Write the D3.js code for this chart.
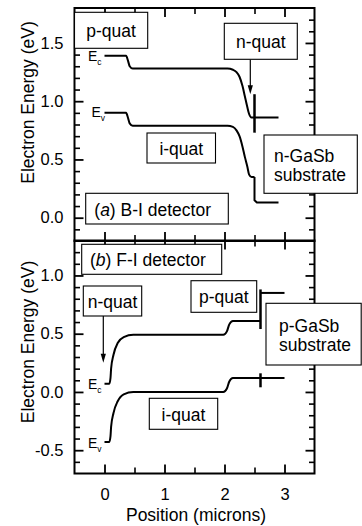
<!DOCTYPE html>
<html><head><meta charset="utf-8">
<script src="https://cdn.jsdelivr.net/npm/d3@7"></script>
<style>
body{margin:0;background:#fff}
svg{display:block}
text{font-family:"Liberation Sans",Arial,Helvetica,sans-serif;fill:#000}
</style>
</head><body><svg id="c" width="362" height="526"></svg>
<script>
// ---------- data ----------
const xMajorTicks = [0, 1, 2, 3];
const xMinorTicks = [0.5, 1.5, 2.5];
const yMajorTicksA = [0, 0.5, 1.0, 1.5];
const yMinorTicksA = [-0.1,0.1,0.2,0.3,0.4,0.6,0.7,0.8,0.9,1.1,1.2,1.3,1.4,1.6,1.7];
const yMajorTicksB = [-0.5, 0, 0.5, 1.0];
const yMinorTicksB = [-0.6,-0.4,-0.3,-0.2,-0.1,0.1,0.2,0.3,0.4,0.6,0.7,0.8,0.9,1.1,1.2];

// (a) B-I detector
const ecA = [[0.0,1.39],[0.36,1.39],[0.39,1.35],[0.42,1.30],[0.47,1.28],[2.05,1.28],[2.14,1.27],[2.2,1.25],[2.25,1.21],[2.3,1.13],[2.34,1.04],[2.38,0.95],[2.41,0.89],[2.45,0.86],[2.9,0.86]];
const evA = [[0.0,0.90],[0.36,0.90],[0.39,0.86],[0.42,0.81],[0.47,0.79],[2.05,0.79],[2.14,0.78],[2.2,0.75],[2.25,0.70],[2.3,0.61],[2.34,0.52],[2.38,0.44],[2.41,0.37],[2.45,0.35],[2.5,0.35]];
const evASub = [[2.5,0.35],[2.5,0.15],[2.54,0.13],[2.9,0.13]];
const barsA = [[2.5,0.73,1.06]];

// (b) F-I detector
const ecB = [[0.0,0.07],[0.08,0.07],[0.1,0.12],[0.11,0.2],[0.15,0.32],[0.22,0.42],[0.32,0.47],[0.48,0.49],[1.98,0.49],[2.04,0.52],[2.08,0.58],[2.14,0.61],[2.6,0.61]];
const evB = [[0.0,-0.43],[0.08,-0.43],[0.1,-0.38],[0.11,-0.30],[0.15,-0.18],[0.22,-0.08],[0.32,-0.02],[0.48,0.0],[1.98,0.0],[2.04,0.03],[2.08,0.09],[2.14,0.12],[3.0,0.12]];
const ecBSub = [[2.6,0.85],[3.0,0.85]];
const barsB = [[2.6,0.54,0.88],[2.6,0.04,0.16]];

// ---------- chart ----------
const svg = d3.select("#c");
const x = d3.scaleLinear([-0.5, 3.5], [74.5, 314.5]);
const yA = d3.scaleLinear([-0.2, 1.8], [241, 8]);
const yB = d3.scaleLinear([-0.7, 1.3], [473.5, 240.5]);
const fmt = d => d.toFixed(1);

function styleAxis(g, w) {
  g.select(".domain").remove();
  g.selectAll(".tick line").attr("stroke", "#000").attr("stroke-width", w);
  g.selectAll(".tick text").style("font-size", "16.5px").attr("fill", "#000");
}

function panel(y, yMaj, yMin, showX) {
  const [y0, y1] = y.range(); // bottom, top
  const g = svg.append("g");
  // left
  g.append("g").attr("transform", `translate(${x.range()[0]},0)`)
    .call(d3.axisLeft(y).tickValues(yMin).tickSize(-5.5).tickFormat(""))
    .call(a => styleAxis(a, 1.6));
  g.append("g").attr("transform", `translate(${x.range()[0]},0)`)
    .call(d3.axisLeft(y).tickValues(yMaj).tickSize(-9).tickPadding(11).tickFormat(fmt))
    .call(a => styleAxis(a, 1.8));
  // right
  g.append("g").attr("transform", `translate(${x.range()[1]},0)`)
    .call(d3.axisRight(y).tickValues(yMin).tickSize(-5.5).tickFormat(""))
    .call(a => styleAxis(a, 1.6));
  g.append("g").attr("transform", `translate(${x.range()[1]},0)`)
    .call(d3.axisRight(y).tickValues(yMaj).tickSize(-9).tickFormat(""))
    .call(a => styleAxis(a, 1.8));
  // top
  g.append("g").attr("transform", `translate(0,${y1})`)
    .call(d3.axisTop(x).tickValues(xMinorTicks).tickSize(-6).tickFormat(""))
    .call(a => styleAxis(a, 1.6));
  g.append("g").attr("transform", `translate(0,${y1})`)
    .call(d3.axisTop(x).tickValues(xMajorTicks).tickSize(-9).tickFormat(""))
    .call(a => styleAxis(a, 1.8));
  // bottom
  g.append("g").attr("transform", `translate(0,${y0})`)
    .call(d3.axisBottom(x).tickValues(xMinorTicks).tickSize(-6).tickFormat(""))
    .call(a => styleAxis(a, 1.6));
  g.append("g").attr("transform", `translate(0,${y0})`)
    .call(d3.axisBottom(x).tickValues(xMajorTicks).tickSize(-9).tickPadding(14.5)
      .tickFormat(showX ? d3.format("d") : ""))
    .call(a => styleAxis(a, 1.8));
  // frame
  g.append("rect").attr("x", x.range()[0]).attr("y", y1)
    .attr("width", x.range()[1] - x.range()[0]).attr("height", y0 - y1)
    .attr("fill", "none").attr("stroke", "#000").attr("stroke-width", 2);
  return g;
}

panel(yA, yMajorTicksA, yMinorTicksA, false);
panel(yB, yMajorTicksB, yMinorTicksB, true);

function curve(data, y, c) {
  svg.append("path").datum(data)
    .attr("d", d3.line().x(d => x(d[0])).y(d => y(d[1])).curve(c || d3.curveMonotoneX))
    .attr("fill", "none").attr("stroke", "#000").attr("stroke-width", 2)
    .attr("stroke-linejoin", "round");
}
function bars(data, y) {
  svg.selectAll(null).data(data).enter().append("line")
    .attr("x1", d => x(d[0])).attr("x2", d => x(d[0]))
    .attr("y1", d => y(d[1])).attr("y2", d => y(d[2]))
    .attr("stroke", "#000").attr("stroke-width", 2.5);
}
curve(ecA, yA); curve(evA, yA); curve(evASub, yA, d3.curveLinear); bars(barsA, yA);
curve(ecB, yB); curve(evB, yB); curve(ecBSub, yB, d3.curveLinear); bars(barsB, yB);

// E labels
function eLabel(px, py, sub) {
  const t = svg.append("text").attr("x", px).attr("y", py).style("font-size", "14px");
  t.append("tspan").text("E");
  t.append("tspan").attr("dy", 4).style("font-size", "8.5px").text(sub);
}
eLabel(88, 60.5, "c"); eLabel(91.5, 116.5, "v");
eLabel(88, 388.5, "c"); eLabel(88, 447.5, "v");

// arrows
function arrow(px, pyStart, pyTip) {
  svg.append("line").attr("x1", px).attr("x2", px).attr("y1", pyStart).attr("y2", pyTip - 7)
    .attr("stroke", "#000").attr("stroke-width", 1.2);
  svg.append("path").attr("d", `M${px},${pyTip} L${px - 2.6},${pyTip - 9} L${px + 2.6},${pyTip - 9} Z`)
    .attr("fill", "#000");
}
arrow(x(2.43), 59.5, yA(1.06));
arrow(x(-0.02), 316, yB(0.25));

// boxes
function box(x0, y0, x1, y1) {
  svg.append("rect").attr("x", x0).attr("y", y0).attr("width", x1 - x0).attr("height", y1 - y0)
    .attr("fill", "#fff").attr("stroke", "#000").attr("stroke-width", 1.1);
}
function label(px, py, txt, anchor) {
  return svg.append("text").attr("x", px).attr("y", py).attr("text-anchor", anchor || "middle")
    .style("font-size", "17.5px").text(txt);
}
box(74.5, 12.3, 147.7, 48.3); label(111, 36.5, "p-quat");
box(224.3, 23.3, 297.3, 59.3); label(260.8, 47.5, "n-quat");
box(147, 133, 215.5, 163); label(181.3, 154.5, "i-quat");
box(264, 135, 357.3, 193.3); label(274, 161.7, "n-GaSb", "start"); label(274, 180.5, "substrate", "start");
box(85.7, 193.3, 228.3, 224);
{ const t = label(94.3, 215.5, "", "start"); t.append("tspan").text("(");
  t.append("tspan").style("font-style", "italic").text("a"); t.append("tspan").text(") B-I detector"); }

box(81.7, 244.3, 221.7, 274.3);
{ const t = label(90, 265.8, "", "start"); t.append("tspan").text("(");
  t.append("tspan").style("font-style", "italic").text("b"); t.append("tspan").text(") F-I detector"); }
box(83.3, 286, 141.7, 316); label(112.5, 307.5, "n-quat");
box(191, 280.7, 256.7, 312.3); label(223.8, 302.5, "p-quat");
box(266, 303.3, 361.2, 365); label(279, 331.5, "p-GaSb", "start"); label(279, 350.5, "substrate", "start");
box(149.3, 398.3, 217.7, 429.3); label(183.5, 420.5, "i-quat");

// axis titles
svg.append("text").attr("transform", "translate(27.5,102.5) rotate(-90)").attr("dy", "0.35em")
  .attr("text-anchor", "middle").style("font-size", "17.5px").text("Electron Energy (eV)");
svg.append("text").attr("transform", "translate(27.5,342) rotate(-90)").attr("dy", "0.35em")
  .attr("text-anchor", "middle").style("font-size", "17.5px").text("Electron Energy (eV)");
svg.append("text").attr("x", 196).attr("y", 520.5).attr("text-anchor", "middle")
  .style("font-size", "17.5px").text("Position (microns)");
</script>
</body></html>
